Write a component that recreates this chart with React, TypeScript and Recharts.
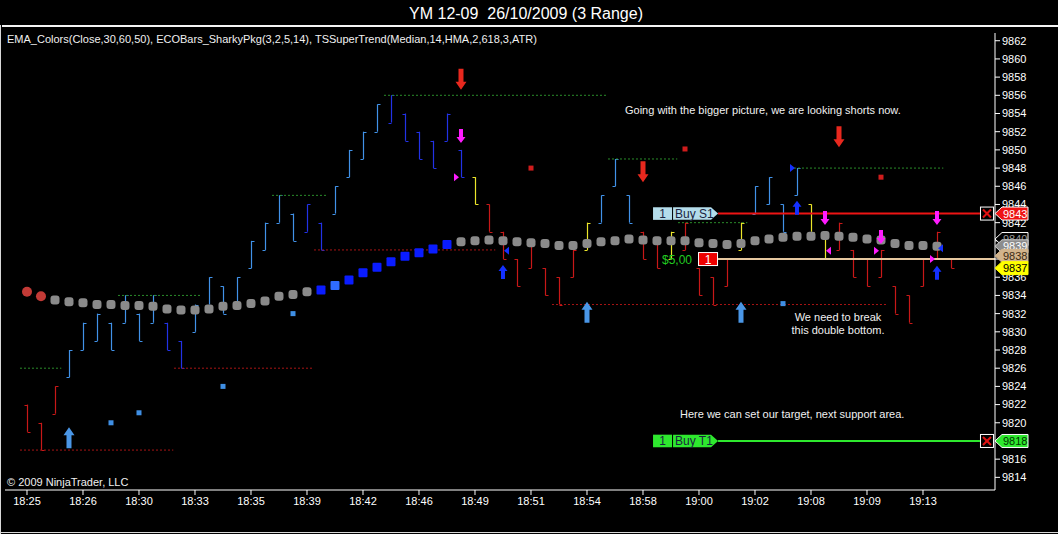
import React from "react";
import {
  ComposedChart,
  Bar,
  Scatter,
  XAxis,
  YAxis,
  ReferenceLine,
  ReferenceDot,
} from "recharts";

// x-axis labels, one every 4 range bars
const timeLabels = [
  "18:25", "18:26", "18:30", "18:33", "18:35", "18:39", "18:42", "18:46", "18:49",
  "18:51", "18:54", "18:58", "19:00", "19:02", "19:08", "19:09", "19:13",
];

const highs = [
  9822, 9820, 9824, 9828, 9831, 9832, 9831, 9834, 9832, 9834,
  9831, 9829, 9833, 9836, 9835, 9836, 9840, 9842, 9845, 9843,
  9844, 9842, 9846, 9850, 9852, 9855, 9856, 9854, 9852, 9851,
  9854, 9850, 9847, 9844, 9841, 9838, 9840, 9837, 9836, 9839,
  9842, 9845, 9849, 9845, 9841, 9840, 9841, 9842, 9837, 9836,
  9838, 9842, 9846, 9847, 9844, 9848, 9844, 9841, 9842, 9839,
  9838, 9839, 9835, 9834, 9838, 9841, 9838,
];

const lows = [
  9819, 9817, 9821, 9825, 9828, 9829, 9828, 9831, 9829, 9831,
  9828, 9826, 9830, 9833, 9832, 9833, 9837, 9839, 9842, 9840,
  9841, 9839, 9843, 9847, 9849, 9852, 9853, 9851, 9849, 9848,
  9851, 9847, 9844, 9841, 9838, 9835, 9837, 9834, 9833, 9836,
  9839, 9842, 9846, 9842, 9838, 9837, 9838, 9839, 9834, 9833,
  9835, 9839, 9843, 9844, 9841, 9845, 9841, 9838, 9839, 9836,
  9835, 9836, 9832, 9831, 9835, 9838, 9837,
];

// bar colour class: b light blue, B dark blue, r red, y yellow
const barKinds = (
  "rrr" + "bbbbbbb" + "BB" + "bbbbbbbb" + "BB" + "bbbb" + "BBBBBB" + "y" +
  "rrrrrrr" + "y" + "bbb" + "rr" + "y" + "rrrr" + "y" + "bbbb" + "yy" + "rrrrrrrrr"
).split("");

const emaValues = [
  9834.4, 9833.9, 9833.5, 9833.3, 9833.2, 9833.0, 9833.0, 9832.9, 9832.9, 9832.8,
  9832.5, 9832.4, 9832.4, 9832.5, 9832.8, 9832.9, 9833.1, 9833.4, 9833.9, 9834.1,
  9834.4, 9834.6, 9835.1, 9835.7, 9836.5, 9837.1, 9837.7, 9838.3, 9838.7, 9839.1,
  9839.6, 9839.9, 9840.0, 9840.1, 9840.0, 9839.9, 9839.8, 9839.7, 9839.5, 9839.5,
  9839.7, 9839.9, 9840.0, 9840.2, 9840.1, 9840.0, 9840.0, 9840.0, 9839.8, 9839.7,
  9839.6, 9839.7, 9840.0, 9840.2, 9840.4, 9840.5, 9840.5, 9840.6, 9840.5, 9840.4,
  9840.2, 9840.1, 9839.7, 9839.5, 9839.5, 9839.4,
];

// EMA colour class: r red, g gray, b blue, l light blue
const emaKinds = (
  "rr" + "ggggg" + "ggggg" + "ggggg" + "gggg" + "bl" + "bbbbbbbb" +
  "ggggg" + "ggggg" + "ggggg" + "ggggg" + "ggggg" + "ggggg" + "ggggg"
).split("");

// SuperTrend stop steps (first bar, last bar, price)
const stopSteps = [
  { from: 0, to: 10, p: 9817, side: "lo" },
  { from: 0, to: 2, p: 9826, side: "hi" },
  { from: 11, to: 20, p: 9826, side: "lo" },
  { from: 7, to: 12, p: 9834, side: "hi" },
  { from: 18, to: 21, p: 9845, side: "hi" },
  { from: 21, to: 33, p: 9839, side: "lo" },
  { from: 26, to: 41, p: 9856, side: "hi" },
  { from: 38, to: 61, p: 9833, side: "lo" },
  { from: 42, to: 46, p: 9849, side: "hi" },
  { from: 47, to: 51, p: 9842, side: "hi" },
  { from: 55, to: 65, p: 9848, side: "hi" },
];

const dotMarks = [
  { i: 6, p: 9820.0, kind: "b" },
  { i: 8, p: 9821.1, kind: "b" },
  { i: 14, p: 9824.0, kind: "b" },
  { i: 19, p: 9832.0, kind: "b" },
  { i: 36, p: 9848.0, kind: "r" },
  { i: 47, p: 9850.1, kind: "r" },
  { i: 54, p: 9833.1, kind: "b" },
  { i: 61, p: 9847.0, kind: "r" },
];

const signals = [
  { i: 3, p: 9819.5, kind: "bigUp" },
  { i: 31, p: 9856.6, kind: "bigDown" },
  { i: 31, p: 9850.75, kind: "pinkDown" },
  { i: 31, p: 9847.0, kind: "pinkRight" },
  { i: 34, p: 9837.35, kind: "blueUp" },
  { i: 34, p: 9838.9, kind: "blueLeft" },
  { i: 40, p: 9833.3, kind: "bigUp" },
  { i: 44, p: 9846.45, kind: "bigDown" },
  { i: 51, p: 9833.3, kind: "bigUp" },
  { i: 55, p: 9848.0, kind: "blueRight" },
  { i: 55, p: 9844.4, kind: "blueUp" },
  { i: 57, p: 9841.75, kind: "pinkDown" },
  { i: 57, p: 9838.9, kind: "pinkLeft" },
  { i: 58, p: 9850.3, kind: "bigDown" },
  { i: 61, p: 9839.65, kind: "pinkDown" },
  { i: 61, p: 9838.9, kind: "pinkRight" },
  { i: 65, p: 9841.75, kind: "pinkDown" },
  { i: 65, p: 9839.2, kind: "blueLeft" },
  { i: 65, p: 9838.0, kind: "pinkRight" },
  { i: 65, p: 9837.25, kind: "blueUp" },
];

const stopPrice = 9843;
const targetPrice = 9818;
const entryPrice = 9838;

const axisTags = [
  { p: 9843, label: "9843", kind: "stop" },
  { p: 9840.2, label: "9840", kind: "emaA" },
  { p: 9839.4, label: "9839", kind: "emaB" },
  { p: 9838.35, label: "9838", kind: "entry" },
  { p: 9837, label: "9837", kind: "last" },
  { p: 9818, label: "9818", kind: "target" },
];

const priceTicks = [
  9814, 9816, 9818, 9820, 9822, 9824, 9826, 9828, 9830, 9832, 9834, 9836, 9838,
  9840, 9842, 9844, 9846, 9848, 9850, 9852, 9854, 9856, 9858, 9860, 9862,
];

const X_MIN = -1.571;
const X_MAX = 69.143;
const Y_MIN = 9812.61;
const Y_MAX = 9862.85;
const TRADE_X = 49.36;
const CLOSE_X = 68.07;
const FONT = "Arial, 'Liberation Sans', sans-serif";

const BAR_COLORS: Record<string, string> = {
  b: "#4192e8",
  B: "#2232e6",
  r: "#c81818",
  y: "#ece62a",
};
const EMA_COLORS: Record<string, string> = {
  r: "#c23a36",
  g: "#8a8a8a",
  b: "#0a1cff",
  l: "#2f6cff",
};

const bars = highs.map((h, i) => {
  const up = i > 0 && h > highs[i - 1];
  return {
    i,
    range: [lows[i], h],
    high: h,
    low: lows[i],
    open: up ? lows[i] : h,
    close: up ? h : lows[i],
    kind: barKinds[i],
  };
});

const emaData = emaValues.map((p, i) => ({ i, p, kind: emaKinds[i] }));

function OhlcShape(props: any) {
  const { x, y, width, height, payload } = props;
  if (!payload) return null;
  const cx = Math.round(x + width / 2) + 0.5;
  const span = payload.high - payload.low;
  const k = span ? height / span : 0;
  const yo = Math.round(y + (payload.high - payload.open) * k) + 0.5;
  const yc = Math.round(y + (payload.high - payload.close) * k) + 0.5;
  const c = BAR_COLORS[payload.kind];
  return (
    <g>
      <line x1={cx} x2={cx} y1={y} y2={y + height} stroke={c} strokeWidth={1.2} />
      <line x1={cx - 3} x2={cx} y1={yo} y2={yo} stroke={c} strokeWidth={1} />
      <line x1={cx} x2={cx + 3} y1={yc} y2={yc} stroke={c} strokeWidth={1} />
    </g>
  );
}

function EmaDot(props: any) {
  const { cx, cy, payload } = props;
  const kind = payload.kind;
  const fill = EMA_COLORS[kind];
  if (kind === "r") return <circle cx={cx} cy={cy} r={5} fill={fill} />;
  return (
    <rect
      x={cx - 4.5}
      y={cy - 4.5}
      width={9}
      height={9}
      rx={kind === "g" ? 3 : 1}
      fill={fill}
    />
  );
}

function SmallMark(props: any) {
  const { cx, cy, payload } = props;
  return (
    <rect
      x={cx - 2.5}
      y={cy - 2.5}
      width={5}
      height={5}
      fill={payload.kind === "r" ? "#d01c1c" : "#3f8fe4"}
    />
  );
}

function arrow(cx: number, cy: number, up: boolean, big: boolean) {
  const s = up ? 1 : -1;
  const hw = big ? 5.5 : 4.5;
  const hh = big ? 8 : 6;
  const sw = big ? 2.5 : 2;
  const len = big ? 21 : 14;
  const pts = [
    [cx, cy],
    [cx + hw, cy + s * hh],
    [cx + sw, cy + s * hh],
    [cx + sw, cy + s * len],
    [cx - sw, cy + s * len],
    [cx - sw, cy + s * hh],
    [cx - hw, cy + s * hh],
  ];
  return pts.map((p) => p.join(",")).join(" ");
}

function SignalShape(props: any) {
  const { cx, cy, payload } = props;
  switch (payload.kind) {
    case "bigUp":
      return <polygon points={arrow(cx, cy, true, true)} fill="#4a96e6" />;
    case "bigDown":
      return <polygon points={arrow(cx, cy, false, true)} fill="#e8281e" />;
    case "pinkDown":
      return <polygon points={arrow(cx, cy, false, false)} fill="#ff1cff" />;
    case "blueUp":
      return <polygon points={arrow(cx, cy, true, false)} fill="#1430ff" />;
    case "pinkRight":
      return <polygon points={`${cx - 2},${cy} ${cx - 7},${cy - 4} ${cx - 7},${cy + 4}`} fill="#ff1cff" />;
    case "blueRight":
      return <polygon points={`${cx - 2},${cy} ${cx - 7},${cy - 4} ${cx - 7},${cy + 4}`} fill="#1430ff" />;
    case "pinkLeft":
      return <polygon points={`${cx + 1},${cy} ${cx + 6},${cy - 4} ${cx + 6},${cy + 4}`} fill="#ff1cff" />;
    case "blueLeft":
      return <polygon points={`${cx + 1},${cy} ${cx + 6},${cy - 4} ${cx + 6},${cy + 4}`} fill="#1430ff" />;
    default:
      return null;
  }
}

const TAG_STYLE: Record<string, { fill: string; text: string; stroke: string }> = {
  stop: { fill: "#ee1414", text: "#ffffff", stroke: "#ffffff" },
  emaA: { fill: "#000000", text: "#9a9a9a", stroke: "#ffffff" },
  emaB: { fill: "#8c8c8c", text: "#ffffff", stroke: "#d0d0d0" },
  entry: { fill: "#d2b48c", text: "#3a2a12", stroke: "#d2b48c" },
  last: { fill: "#ffff00", text: "#000000", stroke: "#ffff00" },
  target: { fill: "#2ee82e", text: "#003300", stroke: "#ffffff" },
};

function makeTag(label: string, kind: string) {
  const st = TAG_STYLE[kind];
  return (props: any) => {
    const { cx, cy } = props;
    const h = 6.5;
    return (
      <g>
        <polygon
          points={`${cx},${cy} ${cx + 7},${cy - h} ${cx + 33},${cy - h} ${cx + 33},${cy + h} ${cx + 7},${cy + h}`}
          fill={st.fill}
          stroke={st.stroke}
          strokeWidth={1}
        />
        <text x={cx + 8} y={cy + 4} fontSize={11} fontFamily={FONT} fill={st.text}>
          {label}
        </text>
      </g>
    );
  };
}

function makeOrderLabel(text: string, fill: string) {
  return (props: any) => {
    const { cx, cy } = props;
    const h = 6.3;
    return (
      <g fontFamily={FONT} fontSize={12}>
        <rect x={cx - 65} y={cy - h} width={19} height={2 * h} fill={fill} />
        <polygon
          points={`${cx - 45},${cy - h} ${cx - 7},${cy - h} ${cx},${cy} ${cx - 7},${cy + h} ${cx - 45},${cy + h}`}
          fill={fill}
        />
        <text x={cx - 55.5} y={cy + 4.5} textAnchor="middle" fill="#1a2440">
          1
        </text>
        <text x={cx - 43} y={cy + 4.5} fill="#1a2440">
          {text}
        </text>
      </g>
    );
  };
}

function CloseBox(props: any) {
  const { cx, cy } = props;
  return (
    <g>
      <rect x={cx + 0.5} y={cy - 6.5} width={13} height={13} fill="#000" stroke="#fff" strokeWidth={1} />
      <line x1={cx + 3} y1={cy - 4} x2={cx + 11} y2={cy + 4} stroke="#e01010" strokeWidth={2} />
      <line x1={cx + 11} y1={cy - 4} x2={cx + 3} y2={cy + 4} stroke="#e01010" strokeWidth={2} />
    </g>
  );
}

function PositionLabel(props: any) {
  const { cx, cy } = props;
  return (
    <g fontFamily={FONT} fontSize={12}>
      <text x={cx - 26} y={cy + 4.5} textAnchor="end" fill="#22cc22">
        $5,00
      </text>
      <rect x={cx - 19.5} y={cy - 6.5} width={19} height={13} fill="#ee0000" stroke="#ffffff" strokeWidth={1} />
      <text x={cx - 10} y={cy + 4.5} textAnchor="middle" fill="#ffffff">
        1
      </text>
    </g>
  );
}

const textStyle: React.CSSProperties = {
  position: "absolute",
  color: "#f0f0f0",
  fontFamily: FONT,
  fontSize: 11,
  lineHeight: "13px",
  whiteSpace: "pre",
};

export default function App() {
  return (
    <div
      style={{
        position: "absolute",
        left: 0,
        top: 0,
        width: 1058,
        height: 534,
        background: "#000",
        overflow: "hidden",
      }}
    >
      <ComposedChart
        width={1058}
        height={534}
        data={bars}
        margin={{ top: 33, right: 8, bottom: 14, left: 5 }}
        style={{ position: "absolute", left: 0, top: 0 }}
      >
        <XAxis
          dataKey="i"
          type="number"
          domain={[X_MIN, X_MAX]}
          allowDataOverflow
          ticks={timeLabels.map((_, k) => k * 4)}
          interval={0}
          tickFormatter={(v: number) => timeLabels[v / 4] ?? ""}
          height={30}
          tickSize={5}
          axisLine={{ stroke: "#ffffff" }}
          tickLine={{ stroke: "#ffffff" }}
          tick={{ fill: "#ffffff", fontSize: 11, fontFamily: FONT }}
        />
        <YAxis
          orientation="right"
          type="number"
          domain={[Y_MIN, Y_MAX]}
          allowDataOverflow
          ticks={priceTicks}
          interval={0}
          width={55}
          tickSize={5}
          axisLine={{ stroke: "#ffffff" }}
          tickLine={{ stroke: "#ffffff" }}
          tick={{ fill: "#ffffff", fontSize: 11, fontFamily: FONT }}
        />

        {stopSteps.map((s, k) => (
          <ReferenceLine
            key={`st${k}`}
            segment={[
              { x: s.from - 0.5, y: s.p },
              { x: s.to + 0.45, y: s.p },
            ]}
            stroke={s.side === "hi" ? "#2a8c2a" : "#a81414"}
            strokeWidth={1}
            strokeDasharray="2 2"
          />
        ))}

        <Bar dataKey="range" barSize={8} shape={OhlcShape} isAnimationActive={false} />
        <Scatter data={emaData} dataKey="p" shape={EmaDot} isAnimationActive={false} />
        <Scatter data={dotMarks} dataKey="p" shape={SmallMark} isAnimationActive={false} />

        <ReferenceLine
          segment={[
            { x: TRADE_X, y: stopPrice },
            { x: CLOSE_X, y: stopPrice },
          ]}
          stroke="#ee1414"
          strokeWidth={2}
        />
        <ReferenceLine
          segment={[
            { x: TRADE_X, y: entryPrice },
            { x: X_MAX, y: entryPrice },
          ]}
          stroke="#e6c8a0"
          strokeWidth={2}
        />
        <ReferenceLine
          segment={[
            { x: TRADE_X, y: targetPrice },
            { x: CLOSE_X, y: targetPrice },
          ]}
          stroke="#2ee82e"
          strokeWidth={2}
        />

        <Scatter data={signals} dataKey="p" shape={SignalShape} isAnimationActive={false} />

        <ReferenceDot x={TRADE_X} y={stopPrice} shape={makeOrderLabel("Buy S1", "#b4dcea")} ifOverflow="visible" />
        <ReferenceDot x={TRADE_X} y={targetPrice} shape={makeOrderLabel("Buy T1", "#2ee82e")} ifOverflow="visible" />
        <ReferenceDot x={TRADE_X} y={entryPrice} shape={PositionLabel} ifOverflow="visible" />
        <ReferenceDot x={CLOSE_X} y={stopPrice} shape={CloseBox} ifOverflow="visible" />
        <ReferenceDot x={CLOSE_X} y={targetPrice} shape={CloseBox} ifOverflow="visible" />
      </ComposedChart>

      {/* price tags on the axis, drawn above the tick labels with the same scales */}
      <ComposedChart
        width={1058}
        height={534}
        data={bars}
        margin={{ top: 33, right: 63, bottom: 44, left: 5 }}
        style={{ position: "absolute", left: 0, top: 0 }}
      >
        <XAxis dataKey="i" type="number" domain={[X_MIN, X_MAX]} allowDataOverflow hide />
        <YAxis type="number" domain={[Y_MIN, Y_MAX]} allowDataOverflow hide />
        {axisTags.map((t) => (
          <ReferenceDot
            key={t.kind}
            x={X_MAX}
            y={t.p}
            shape={makeTag(t.label, t.kind)}
            ifOverflow="visible"
          />
        ))}
      </ComposedChart>

      {/* frame */}
      <div style={{ position: "absolute", left: 2, top: 25, width: 1056, height: 2, background: "#f4f4f4" }} />
      <div style={{ position: "absolute", left: 0, top: 25, width: 1, height: 509, background: "#d8d8d8" }} />
      <div style={{ position: "absolute", left: 0, top: 532, width: 1058, height: 1, background: "#d8d8d8" }} />

      <div
        style={{
          ...textStyle,
          left: 0,
          top: 4,
          width: 1052,
          textAlign: "center",
          fontSize: 16,
          lineHeight: "20px",
          color: "#ffffff",
        }}
      >
        {"YM 12-09  26/10/2009 (3 Range)"}
      </div>
      <div style={{ ...textStyle, left: 7, top: 33 }}>
        EMA_Colors(Close,30,60,50), ECOBars_SharkyPkg(3,2,5,14), TSSuperTrend(Median,14,HMA,2,618,3,ATR)
      </div>
      <div style={{ ...textStyle, left: 625, top: 104 }}>
        Going with the bigger picture, we are looking shorts now.
      </div>
      <div style={{ ...textStyle, left: 738, top: 311, width: 200, textAlign: "center" }}>
        {"We need to break\nthis double bottom."}
      </div>
      <div style={{ ...textStyle, left: 680, top: 408 }}>
        Here we can set our target, next support area.
      </div>
      <div style={{ ...textStyle, left: 7, top: 476 }}>© 2009 NinjaTrader, LLC</div>
    </div>
  );
}
